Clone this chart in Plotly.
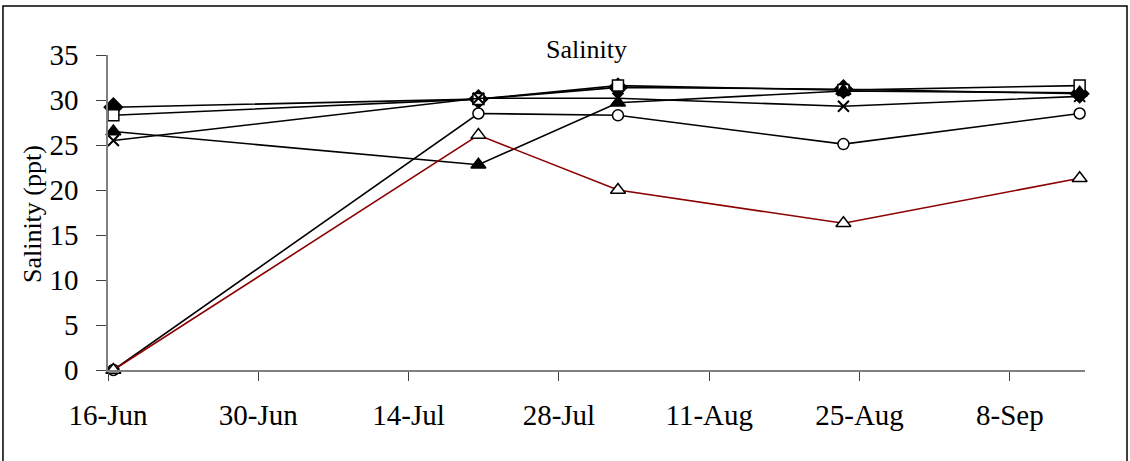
import plotly.graph_objects as go

dates = ["2003-06-16", "2003-07-20", "2003-08-02", "2003-08-23", "2003-09-14"]

series_diamond = [29.2, 30.1, 31.4, 31.2, 30.7]
series_square = [28.3, 30.1, 31.6, 31.1, 31.6]
series_x = [25.5, 30.2, 30.2, 29.3, 30.4]
series_tri_filled = [26.5, 22.8, 29.7, 31.0, 30.8]
series_circle = [0.0, 28.5, 28.3, 25.1, 28.5]
series_tri_open = [0.0, 26.1, 20.0, 16.3, 21.3]

tick_dates = ["2003-06-16", "2003-06-30", "2003-07-14", "2003-07-28",
              "2003-08-11", "2003-08-25", "2003-09-08"]
tick_labels = ["16-Jun", "30-Jun", "14-Jul", "28-Jul", "11-Aug", "25-Aug", "8-Sep"]
y_ticks = [0, 5, 10, 15, 20, 25, 30, 35]

FONT = "Liberation Serif"
DAY_MS = 86400000

fig = go.Figure()

def add(y, symbol, size, line_color="black", mfill="black", mline=1.5):
    fig.add_trace(go.Scatter(
        x=dates, y=y, mode="lines+markers",
        xperiod=DAY_MS, xperiodalignment="middle",
        line=dict(color=line_color, width=1.6),
        marker=dict(symbol=symbol, size=size, color=mfill,
                    line=dict(color="black", width=mline)),
        showlegend=False, cliponaxis=False))

add(series_diamond, "diamond", 14)
add(series_square, "square", 11, mfill="white")
add(series_x, "x-thin-open", 11, mline=2)
add(series_tri_filled, "triangle-up", 13)
add(series_circle, "circle", 11, mfill="white")
add(series_tri_open, "triangle-up", 13, line_color="#8B0000", mfill="white")

fig.update_layout(
    width=1130, height=461,
    margin=dict(l=108, r=45, t=55, b=91),
    paper_bgcolor="white", plot_bgcolor="white",
    font=dict(family=FONT, color="black"),
    xaxis=dict(
        type="date", range=["2003-06-16", "2003-09-15"],
        tickvals=tick_dates, ticktext=tick_labels,
        showgrid=False, zeroline=False,
        showline=True, linecolor="#808080", linewidth=1.5,
        ticks="outside", ticklen=9, tickcolor="#404040", tickwidth=1,
        tickfont=dict(size=29, family=FONT, color="black"), ticklabelstandoff=9,
    ),
    yaxis=dict(
        range=[0, 35], tickvals=y_ticks,
        showgrid=False, zeroline=False,
        showline=True, linecolor="#808080", linewidth=1.5,
        ticks="outside", ticklen=10, tickcolor="#404040", tickwidth=1,
        tickfont=dict(size=29, family=FONT, color="black"), ticklabelstandoff=12,
    ),
    annotations=[
        dict(text="Salinity", xref="paper", yref="paper", x=0.49, y=1.016,
             xanchor="center", yanchor="middle", showarrow=False,
             font=dict(size=26, family=FONT, color="black")),
        dict(text="Salinity (ppt)", xref="paper", yref="paper", x=-0.0778, y=0.495,
             xanchor="center", yanchor="middle", textangle=-90, showarrow=False,
             font=dict(size=26, family=FONT, color="black")),
    ],
    shapes=[
        dict(type="rect", xref="paper", yref="paper",
             x0=-0.1075, x1=1.043, y0=-0.35, y1=1.1556,
             line=dict(color="black", width=1.5), fillcolor="rgba(0,0,0,0)",
             layer="below"),
    ],
)

fig.write_html("out.html")
